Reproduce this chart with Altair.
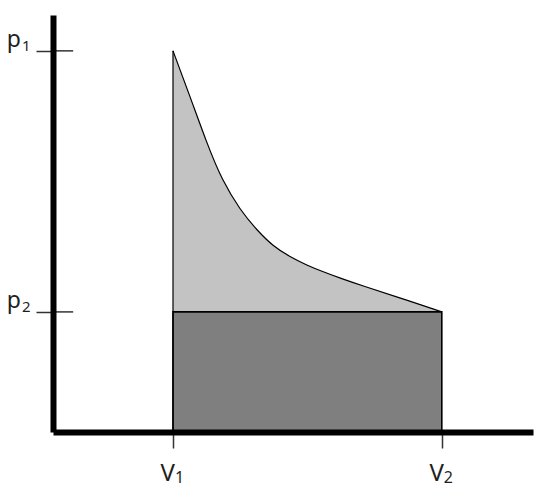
import altair as alt
import pandas as pd

# curve (V, p in arbitrary units)
V_curve = [2.5, 2.85, 3.21, 3.52, 3.9, 4.25, 4.58, 4.94, 5.29, 5.63, 5.98, 6.46, 7.17, 8.1]
p_curve = [9.14, 8.06, 6.91, 6.04, 5.32, 4.84, 4.46, 4.2, 4.0, 3.84, 3.69, 3.5, 3.24, 2.88]
V1, V2 = 2.5, 8.1
p1, p2 = 9.14, 2.88
tick_V = [V1, V2]
tick_p = [p1, p2]
letters_V = ["V", "V"]
digits_V = ["1", "2"]
letters_p = ["p", "p"]
digits_p = ["1", "2"]

curve = pd.DataFrame({"V": V_curve, "p": p_curve, "base": [p2] * len(V_curve)})
rect = pd.DataFrame({"V": [V1], "V2": [V2], "p": [0.0], "p2": [p2]})
vline = pd.DataFrame({"V": [V1], "p": [0.0], "p2": [p1]})
inner = pd.DataFrame({"V": [0.0, 0.0], "V2": [0.42, 0.42], "p": tick_p})
xlab = pd.DataFrame({"V": tick_V, "p": [0.0, 0.0], "L": letters_V, "D": digits_V})
ylab = pd.DataFrame({"V": [0.0, 0.0], "p": tick_p, "L": letters_p, "D": digits_p})

xs = alt.Scale(domain=[0, 10], nice=False, zero=False)
ys = alt.Scale(domain=[0, 10], nice=False, zero=False)

x_axis = alt.Axis(values=tick_V, labels=False, title=None, grid=False,
                  tickSize=16, zindex=1)
y_axis = alt.Axis(values=tick_p, labels=False, title=None, grid=False,
                  tickSize=17, zindex=1)


def X(f):
    return alt.X(f"{f}:Q", scale=xs, axis=x_axis)


def Y(f):
    return alt.Y(f"{f}:Q", scale=ys, axis=y_axis)


FONT = "Noto Sans"
TXT = "#1e1e1e"

area = alt.Chart(curve).mark_area(color="#c3c3c3", interpolate="basis").encode(
    x=X("V"), y=Y("p"), y2="base:Q"
)
box = alt.Chart(rect).mark_rect(color="#7f7f7f", stroke="#000000", strokeWidth=1.6).encode(
    x=X("V"), x2="V2:Q", y=Y("p"), y2="p2:Q"
)
line = alt.Chart(curve).mark_line(color="#000000", strokeWidth=1.2, interpolate="basis").encode(
    x=X("V"), y=Y("p")
)
vrule = alt.Chart(vline).mark_rule(color="#000000", strokeWidth=1.2).encode(
    x=X("V"), y=Y("p"), y2="p2:Q"
)
ticks_in = alt.Chart(inner).mark_rule(color="#333333", strokeWidth=1.5).encode(
    x=X("V"), x2="V2:Q", y=Y("p")
)

xl_letter = alt.Chart(xlab).mark_text(
    font=FONT, fontSize=24, color=TXT, align="right", baseline="alphabetic", dx=2, dy=49
).encode(x=X("V"), y=Y("p"), text="L:N")
xl_digit = alt.Chart(xlab).mark_text(
    font=FONT, fontSize=16, color=TXT, align="left", baseline="alphabetic", dx=2, dy=51
).encode(x=X("V"), y=Y("p"), text="D:N")
yl_letter = alt.Chart(ylab).mark_text(
    font=FONT, fontSize=23, color=TXT, align="right", baseline="alphabetic", dx=-32, dy=-4
).encode(x=X("V"), y=Y("p"), text="L:N")
yl_digit = alt.Chart(ylab).mark_text(
    font=FONT, fontSize=15, color=TXT, align="left", baseline="alphabetic", dx=-31, dy=0
).encode(x=X("V"), y=Y("p"), text="D:N")

chart = alt.layer(area, box, line, vrule, ticks_in,
                  xl_letter, xl_digit, yl_letter, yl_digit).properties(
    width=480, height=417,
    padding={"left": 45, "top": 7, "right": 9, "bottom": 57},
    autosize=alt.AutoSizeParams(type="none"),
    background="white",
).configure_view(stroke=None).configure_axis(
    domainColor="#000000", domainWidth=6, tickColor="#333333", tickWidth=1.5,
)

chart.save("out.html", embed_options={"renderer": "svg", "actions": False})
